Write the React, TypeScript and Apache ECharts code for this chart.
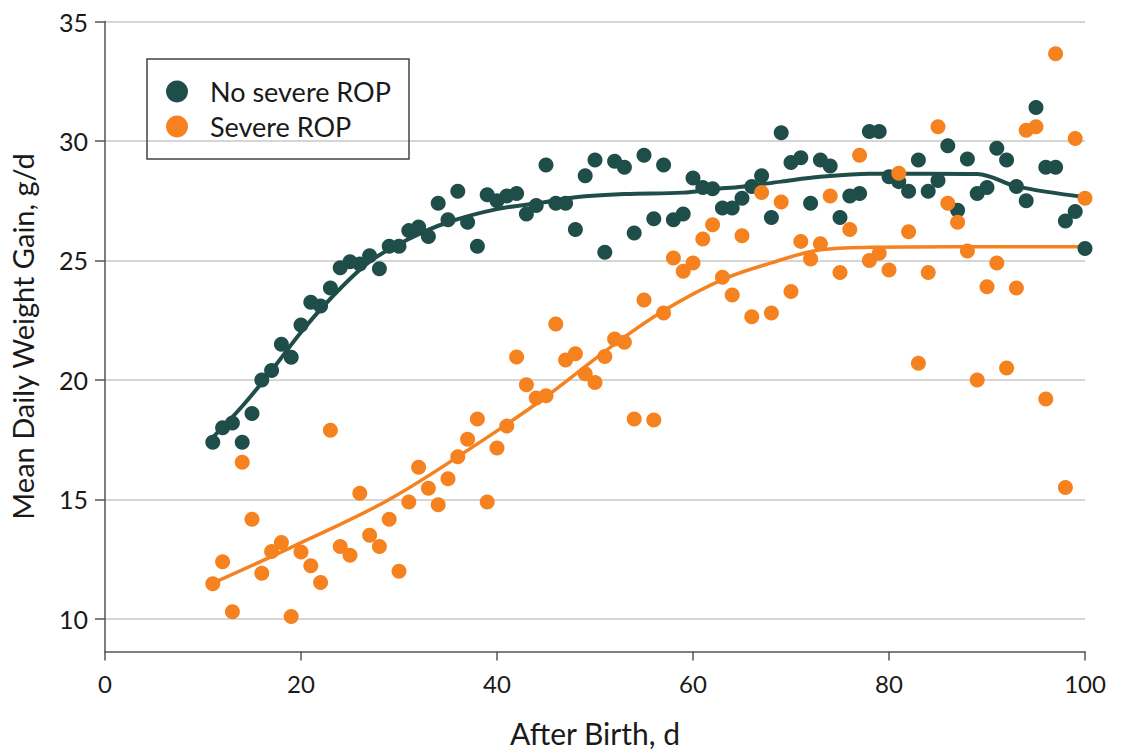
import React, { useEffect, useRef } from "react";
import * as echarts from "echarts";

const days = [
  11, 12, 13, 14, 15, 16, 17, 18, 19, 20, 21, 22, 23, 24, 25, 26, 27, 28, 29, 30,
  31, 32, 33, 34, 35, 36, 37, 38, 39, 40, 41, 42, 43, 44, 45, 46, 47, 48, 49, 50,
  51, 52, 53, 54, 55, 56, 57, 58, 59, 60, 61, 62, 63, 64, 65, 66, 67, 68, 69, 70,
  71, 72, 73, 74, 75, 76, 77, 78, 79, 80, 81, 82, 83, 84, 85, 86, 87, 88, 89, 90,
  91, 92, 93, 94, 95, 96, 97, 98, 99, 100,
];

const noSevereROP = [
  17.4, 18.0, 18.2, 17.4, 18.6, 20.0, 20.4, 21.5, 20.95, 22.3,
  23.25, 23.1, 23.85, 24.7, 24.95, 24.85, 25.2, 24.65, 25.6, 25.6,
  26.25, 26.4, 26.0, 27.4, 26.7, 27.9, 26.6, 25.6, 27.75, 27.5,
  27.7, 27.8, 26.95, 27.3, 29.0, 27.4, 27.4, 26.3, 28.55, 29.2,
  25.35, 29.15, 28.9, 26.15, 29.4, 26.75, 29.0, 26.7, 26.95, 28.45,
  28.05, 28.0, 27.2, 27.2, 27.6, 28.1, 28.55, 26.8, 30.35, 29.1,
  29.3, 27.4, 29.2, 28.95, 26.8, 27.7, 27.8, 30.4, 30.4, 28.5,
  28.3, 27.9, 29.2, 27.9, 28.35, 29.8, 27.1, 29.25, 27.8, 28.05,
  29.7, 29.2, 28.1, 27.5, 31.4, 28.9, 28.9, 26.65, 27.05, 25.5,
];

const severeROP = [
  11.47, 12.4, 10.3, 16.56, 14.17, 11.91, 12.82, 13.2, 10.1, 12.8,
  12.23, 11.53, 17.9, 13.03, 12.67, 15.26, 13.5, 13.03, 14.17, 12.0,
  14.9, 16.35, 15.47, 14.78, 15.87, 16.79, 17.52, 18.37, 14.9, 17.15,
  18.07, 20.96, 19.8, 19.25, 19.34, 22.34, 20.84, 21.1, 20.26, 19.9,
  20.98, 21.72, 21.58, 18.37, 23.35, 18.33, 22.8, 25.1, 24.55, 24.9,
  25.9, 26.5, 24.3, 23.56, 26.04, 22.65, 27.85, 22.8, 27.45, 23.7,
  25.8, 25.06, 25.7, 27.7, 24.5, 26.3, 29.4, 25.0, 25.3, 24.6,
  28.65, 26.2, 20.7, 24.5, 30.6, 27.4, 26.6, 25.4, 20.0, 23.9,
  24.9, 20.5, 23.85, 30.45, 30.6, 19.2, 33.65, 15.5, 30.1, 27.6,
];

const noSevereTrendDays = [11, 14, 17, 20, 23, 27, 31, 35, 40, 45, 48, 53, 59, 62, 65, 69, 73, 78, 84, 89, 93, 100];
const noSevereTrend = [17.6, 18.9, 20.4, 22.0, 23.4, 24.95, 25.9, 26.6, 27.15, 27.45, 27.65, 27.78, 27.84, 27.98, 28.09, 28.3, 28.5, 28.63, 28.63, 28.62, 28.1, 27.65];

const severeTrendDays = [11, 19, 29, 39, 45, 52, 57, 63, 68, 73, 78, 100];
const severeTrend = [11.5, 13.0, 15.0, 17.6, 19.3, 21.5, 22.9, 24.2, 24.9, 25.45, 25.55, 25.58];

const yTicks = [10, 15, 20, 25, 30, 35];

const DARK = "#1f4e4a";
const ORANGE = "#f5821f";
const FONT = "Lato, 'Liberation Sans', sans-serif";
const TEXT = "#1a1a1a";

const pair = (xs: number[], ys: number[]) => xs.map((x, i) => [x, ys[i]]);

export default function App() {
  const ref = useRef<HTMLDivElement>(null);
  useEffect(() => {
    if (!ref.current) return;
    const chart = echarts.init(ref.current, undefined, { renderer: "svg" });
    chart.setOption({
      animation: false,
      backgroundColor: "#ffffff",
      grid: { left: 105, right: 40, top: 21.5, bottom: 103.5, containLabel: false, outerBoundsMode: "none" },
      legend: {
        data: ["No severe ROP", "Severe ROP"],
        orient: "vertical",
        left: 166,
        top: 78,
        padding: 0,
        itemGap: 8,
        itemWidth: 56,
        itemHeight: 22,
        icon: "circle",
        selectedMode: false,
        textStyle: { fontFamily: FONT, fontSize: 27, color: TEXT, padding: [0, 0, 0, 0] },
      },
      graphic: [
        {
          type: "rect",
          shape: { x: 147, y: 59, width: 262, height: 100 },
          style: { fill: "none", stroke: "#444444", lineWidth: 1.5 },
          z: 10,
        },
      ],
      xAxis: {
        type: "value",
        min: 0,
        max: 100,
        interval: 20,
        name: "After Birth, d",
        nameLocation: "middle",
        nameGap: 66,
        nameTextStyle: { fontFamily: FONT, fontSize: 30, color: TEXT },
        axisLine: { show: true, onZero: false, lineStyle: { color: "#555555", width: 1.5 } },
        axisTick: { show: true, length: 9, lineStyle: { color: "#555555", width: 1.5 } },
        axisLabel: { fontFamily: FONT, fontSize: 24, color: TEXT, margin: 20 },
        splitLine: { show: false },
      },
      yAxis: {
        type: "value",
        min: 8.64,
        max: 35,
        name: "Mean Daily Weight Gain, g/d",
        nameLocation: "middle",
        nameGap: 68,
        nameTextStyle: { fontFamily: FONT, fontSize: 29, color: TEXT },
        axisLine: { show: true, lineStyle: { color: "#555555", width: 1.5 } },
        axisTick: { show: true, length: 10, customValues: yTicks, lineStyle: { color: "#555555", width: 1.5 } },
        axisLabel: { fontFamily: FONT, fontSize: 25, color: TEXT, margin: 17, customValues: yTicks },
        splitLine: { show: true, lineStyle: { color: "#d6d6d6", width: 2 } },
      },
      series: [
        {
          name: "No severe ROP trend",
          type: "line",
          data: pair(noSevereTrendDays, noSevereTrend),
          smooth: 0.35,
          showSymbol: false,
          lineStyle: { color: DARK, width: 4 },
          z: 2,
        },
        {
          name: "Severe ROP trend",
          type: "line",
          data: pair(severeTrendDays, severeTrend),
          smooth: 0.35,
          showSymbol: false,
          lineStyle: { color: ORANGE, width: 3.5 },
          z: 2,
        },
        {
          name: "No severe ROP",
          type: "scatter",
          data: pair(days, noSevereROP),
          symbol: "circle",
          symbolSize: 15,
          itemStyle: { color: DARK, opacity: 1 },
          z: 3,
        },
        {
          name: "Severe ROP",
          type: "scatter",
          data: pair(days, severeROP),
          symbol: "circle",
          symbolSize: 15,
          itemStyle: { color: ORANGE, opacity: 1 },
          z: 4,
        },
      ],
    });
    return () => chart.dispose();
  }, []);
  return (
    <div
      ref={ref}
      style={{ position: "fixed", left: 0, top: 0, width: 1125, height: 755, background: "#fff" }}
    />
  );
}
